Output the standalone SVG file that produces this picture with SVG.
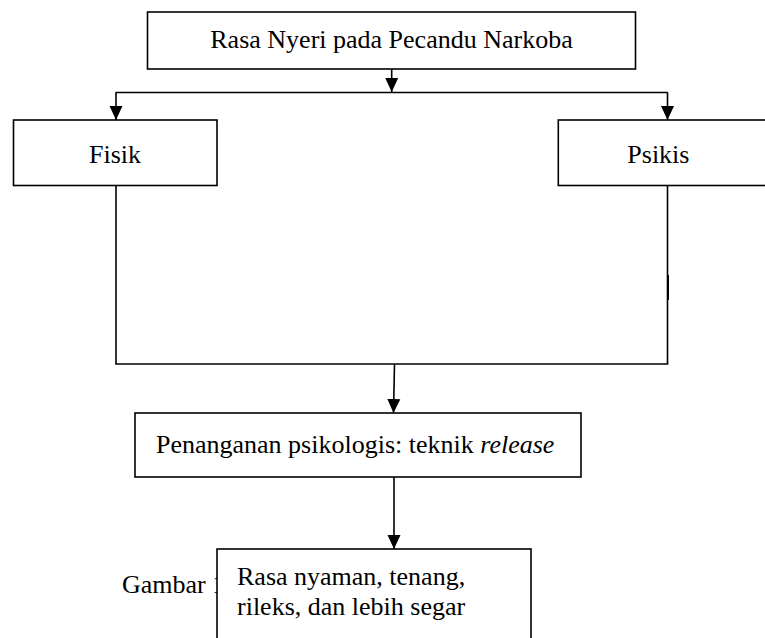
<svg xmlns="http://www.w3.org/2000/svg" width="765" height="638" viewBox="0 0 765 638">
<style>
.box{fill:#fff;stroke:#000;stroke-width:1.6}
.ln{fill:none;stroke:#000;stroke-width:1.6}
.t{font-family:"Liberation Serif","Times New Roman",serif;font-size:26px;fill:#000}
</style>
<defs>
<marker id="ah" viewBox="0 0 14 14" markerWidth="14" markerHeight="14" refX="14" refY="7" orient="auto" markerUnits="userSpaceOnUse">
<path d="M0,0.5 L14,7 L0,13.5 z" fill="#000"/>
</marker>
</defs>
<rect width="765" height="638" fill="#fff"/>
<text class="t" x="122" y="593">Gambar 1</text>
<g id="connectors">
<line class="ln" x1="391.7" y1="69" x2="391.7" y2="92" marker-end="url(#ah)"/>
<line class="ln" x1="115.5" y1="92.5" x2="667.8" y2="92.5"/>
<line class="ln" x1="116" y1="92.5" x2="116" y2="120" marker-end="url(#ah)"/>
<line class="ln" x1="667.5" y1="92.5" x2="667.5" y2="120" marker-end="url(#ah)"/>
<line class="ln" x1="116" y1="185.5" x2="116" y2="364"/>
<line class="ln" x1="667.5" y1="185.5" x2="667.5" y2="364"/>
<line class="ln" x1="668.2" y1="275" x2="668.2" y2="300"/>
<line class="ln" x1="115.2" y1="364" x2="668.3" y2="364"/>
<line class="ln" x1="394.5" y1="364" x2="393.5" y2="413" marker-end="url(#ah)"/>
<line class="ln" x1="394" y1="477" x2="394" y2="549" marker-end="url(#ah)"/>
</g>
<g id="node-top">
<rect class="box" x="147.5" y="12" width="488" height="57"/>
<text class="t" x="391.5" y="48" text-anchor="middle">Rasa Nyeri pada Pecandu Narkoba</text>
</g>
<g id="node-fisik">
<rect class="box" x="13.5" y="120" width="203.5" height="65.5"/>
<text class="t" x="115" y="163" text-anchor="middle">Fisik</text>
</g>
<g id="node-psikis">
<rect class="box" x="558.3" y="120" width="215" height="65.5"/>
<text class="t" x="627.3" y="163">Psikis</text>
</g>
<g id="node-penanganan">
<rect class="box" x="135" y="413" width="446" height="64"/>
<text class="t" x="156" y="453">Penanganan psikologis: teknik <tspan font-style="italic">release</tspan></text>
</g>
<g id="node-hasil">
<rect class="box" x="217" y="549" width="314" height="100"/>
<text class="t" x="237" y="585">Rasa nyaman, tenang,</text>
<text class="t" x="237" y="615">rileks, dan lebih segar</text>
</g>
</svg>
